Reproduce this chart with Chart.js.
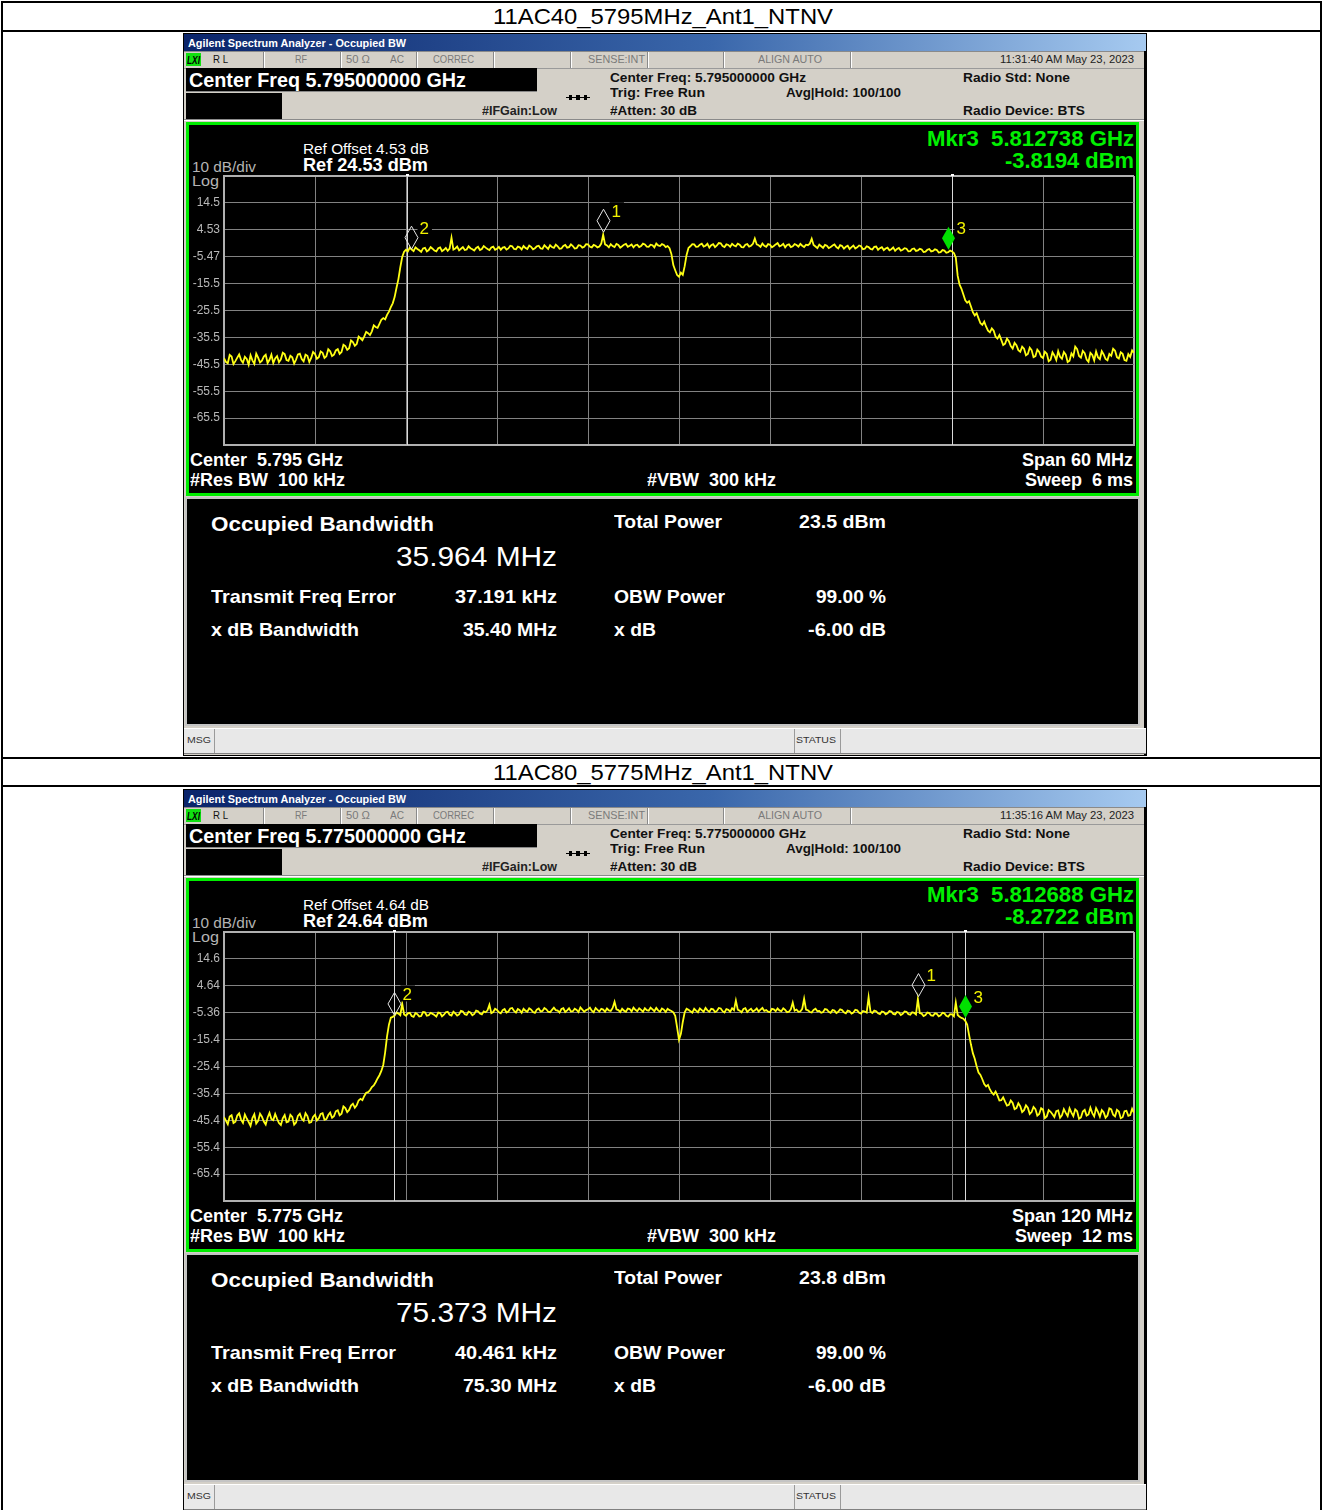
<!DOCTYPE html>
<html><head><meta charset="utf-8">
<script src="https://cdn.jsdelivr.net/npm/chart.js@4.4.1/dist/chart.umd.min.js"></script>
<style>
html,body{margin:0;padding:0;background:#fff;width:1323px;height:1510px;overflow:hidden;position:relative;font-family:"Liberation Sans",Arial,sans-serif;}
canvas{position:absolute;}
</style></head><body>
<script>
// ---------- DATA ----------
const trace1Range = [5765, 5825];           // MHz, span 60 MHz, evenly spaced sweep points
const trace1Values = [
 -43.2,-44.6,-45.1,-42.0,-42.6,-45.4,-44.3,-43.0,-41.8,-43.9,-44.9,-42.7,-43.5,-45.6,-42.1,-44.0,-45.3,-41.5,-43.0,-44.8,
 -44.1,-42.6,-41.9,-45.0,-43.8,-41.9,-45.0,-43.3,-42.4,-44.7,-43.6,-41.2,-41.7,-43.9,-44.2,-42.3,-42.9,-45.2,-43.7,-41.8,
 -41.5,-43.5,-44.4,-41.9,-42.3,-44.6,-43.1,-40.9,-41.6,
 -43.4,-42.8,-40.7,-41.2,-43.1,-42.5,-39.9,-40.6,-42.4,-41.9,-40.3,-39.8,-41.6,-40.9,-38.2,-38.7,-40.1,-39.5,-36.6,-37.2,
 -38.6,-37.9,-35.2,-35.8,-36.5,-35.1,-33.4,-33.9,-34.6,-33.2,-31.0,-31.6,-31.9,-30.4,-28.9,-28.3,-28.8,-27.1,-25.9,-24.2,
 -22.8,-20.5,-17.0,-13.8,-9.4,-5.6,
 -3.6,-2.9,-3.5,-2.1,-2.8,-3.4,-2.0,-2.6,-3.1,-3.7,-2.4,-2.2,-3.5,-3.0,-1.9,-2.5,-3.2,-3.5,-2.3,-2.0,-3.4,-2.9,-2.2,-3.3,-2.5,
 1.6,-2.8,
 -2.4,-1.7,-3.1,-2.5,-1.9,-3.0,-2.8,-1.6,-2.3,-2.7,-3.2,-2.2,-1.8,-3.0,-2.6,-1.5,-2.1,-2.6,-3.0,-2.0,
 -1.7,-2.9,-2.5,-1.8,-2.9,-2.1,-1.9,-2.8,-2.4,-1.4,-1.6,-2.6,-2.7,-1.7,-2.0,-2.8,-1.5,-2.2,-2.6,-1.3,
 -1.8,-2.7,-2.3,-1.6,-1.4,-2.4,-2.5,-1.2,-1.9,-2.6,-1.2,-1.9,-2.2,-1.0,-1.6,-2.5,-2.4,-1.5,-1.1,-2.1,
 -1.9,-0.9,-1.5,-2.4,-2.3,-1.2,-1.3,-2.1,-1.8,-0.8,-0.9,-1.8,-2.0,-1.1,-1.4,-2.0,-1.7,-0.6,
 2.7,-0.9,
 -1.3,-2.0,-0.8,-1.5,-1.9,-0.7,-1.1,-2.1,-1.6,-1.0,-0.7,-1.8,-1.4,-0.9,-2.0,-1.2,-1.0,-1.9,-1.5,-0.6,
 -0.9,-1.7,-1.8,-1.0,-1.2,-2.0,-0.6,-1.3,-1.5,-0.8,-1.1,-1.9,-1.5,-2.3,
 -4.5,-8.6,-10.5,-12.3,-12.9,-11.4,-12.2,-9.0,-4.8,-2.2,
 -1.6,-0.8,-0.9,-1.8,-1.7,-1.0,-0.6,-1.7,-1.4,-0.7,-2.1,-1.2,-0.8,-1.9,-1.3,-0.4,-0.5,-1.5,-1.9,-0.9,
 -1.1,-1.8,-0.7,-1.3,-1.6,-0.6,-1.0,-1.9,-2.0,-1.0,-0.8,-1.7,-1.4,-0.7,
 1.3,-0.9,
 -1.2,-1.8,-0.6,-1.4,-1.8,-0.8,-1.0,-2.0,-1.5,-0.9,-0.4,-1.6,-1.3,-0.7,-2.0,-1.1,-0.9,-1.9,-1.6,-0.8,
 -1.1,-1.7,-0.7,-1.4,-1.9,-1.0,-1.2,-0.6,
 1.2,-1.1,
 -1.7,-2.3,-1.0,-1.6,-2.2,-1.1,-1.4,-2.3,-1.9,-1.3,-0.9,-1.9,-2.4,-1.2,-1.5,-2.5,-1.8,-1.4,-2.6,-1.9,
 -1.3,-2.4,-2.0,-1.3,-1.6,-2.7,-2.5,-1.6,-1.9,-2.6,-2.8,-1.8,-1.7,-2.9,-2.3,-1.9,-3.0,-2.4,-2.1,-3.1,
 -2.7,-2.0,-3.3,-2.6,-2.2,-3.2,-2.9,-2.3,-2.5,-3.5,-3.4,-2.6,-2.4,-3.3,-3.1,-2.5,-2.8,-3.7,-3.6,-2.9,
 -2.6,-3.5,-3.3,-2.7,-3.0,-3.9,-3.8,-3.0,-3.2,-4.0,
 -3.8,-3.2,-3.5,-4.1,-5.8,-12.6,-15.9,-17.4,-19.5,-21.7,-22.6,-22.0,-24.0,-26.1,-27.3,-26.5,-28.4,-30.2,-30.8,-29.6,
 -31.5,-33.0,-33.6,-32.1,-33.0,-35.2,-35.9,-34.6,-36.4,-38.3,-37.8,-35.9,-36.9,-38.7,-39.6,-37.5,-38.4,-40.2,-40.8,-38.9,
 -39.7,-42.1,-41.6,-39.3,-40.2,-42.8,-42.4,-40.0,-40.9,-42.6,-43.1,-40.8,
 -41.5,-44.3,-43.8,-41.0,-42.2,-43.9,-40.6,-42.7,-43.4,-40.9,-41.9,-44.6,-44.1,-41.4,-42.5,-38.9,-39.8,-42.4,-43.0,-40.5,
 -41.3,-43.7,-44.5,-41.2,-42.0,-44.0,-40.7,-42.9,-43.6,-40.6,-41.8,-43.5,-44.0,-41.6,-42.3,-39.7,-40.4,-42.8,-43.3,-41.0,
 -41.6,-43.9,-44.2,-41.7,-42.7,-40.3,-41.2
];
const trace1Ref = 24.53;
const trace1TickLabels = ['', '14.5', '4.53', '-5.47', '-15.5', '-25.5', '-35.5', '-45.5', '-55.5', '-65.5', ''];
const marker1Freqs = [5790.0, 5777.338, 5812.738];
const marker1Levels = [2.7, -3.6, -3.8194];
const obw1Edges = [5777.055, 5813.019];

const trace2Range = [5715, 5835];           // MHz, span 120 MHz, evenly spaced sweep points
const trace2Values = [
 -44.2,-45.5,-46.8,-44.0,-43.5,-46.4,-45.9,-43.6,-42.8,-45.1,-46.3,-43.2,-44.7,-46.0,-47.4,-44.5,-43.1,-46.6,-45.6,-42.9,
 -44.0,-45.8,-46.9,-44.3,-42.6,-44.9,-45.3,-43.0,-44.8,-46.4,-47.1,-44.6,-43.4,-46.1,-45.8,-43.3,-44.1,-47.0,-46.2,-43.7,
 -42.9,-44.8,-45.5,-42.7,-43.8,-46.3,-46.0,-44.1,-43.3,
 -45.4,-44.6,-43.0,-42.7,-45.2,-44.9,-43.4,-42.5,-44.4,-43.8,-42.0,-41.6,-43.5,-42.9,-40.2,-40.8,-42.3,-41.5,-39.9,-39.2,
 -40.7,-39.8,-38.0,-37.4,-37.9,-36.3,-35.1,-34.9,-34.2,-33.0,-32.4,-31.2,-29.8,-28.6,-27.0,-24.8,-20.1,-14.2,-9.8,-7.2,
 -6.9,-6.4,-5.3,-5.7,-6.3,-2.0,-6.0,-6.5,-5.6,-5.4,-6.6,-6.9,-5.5,-5.9,-6.8,-6.6,-5.1,-5.2,-6.5,-6.3,
 -5.4,-5.8,-6.2,-6.8,-5.3,-5.5,-6.7,-6.1,-5.2,-5.0,-6.1,-6.4,-5.0,-5.6,-6.4,-6.0,-4.7,-4.9,-5.9,-6.2,
 -5.0,-5.3,-6.3,-5.8,-4.6,-4.8,-5.7,-6.0,-4.9,-5.2,-4.5,-2.4,-5.5,
 -5.1,-3.9,-4.3,-5.2,-5.6,-4.4,-4.0,-5.3,-4.9,-3.8,-3.6,-4.7,-5.3,-4.0,-4.4,-5.4,-3.9,-4.6,-5.0,-3.7,
 -4.2,-5.1,-5.4,-4.2,-3.8,-4.9,-4.7,-3.6,-4.1,-5.0,-5.2,-4.3,-3.5,-4.4,-4.6,-5.3,-4.0,-3.7,-5.1,-4.5,
 -3.7,-4.9,-4.8,-3.9,-4.3,-5.1,-3.4,-4.2,-5.0,-4.4,-4.1,-3.5,-4.6,-5.2,-3.6,-4.3,-4.9,-3.9,-4.2,-5.0,
 -3.8,-4.5,-4.7,-3.6,-1.3,-4.1,-4.4,-5.1,-3.9,-4.6,-5.0,-3.8,-4.0,-4.9,-3.5,-4.3,-4.8,-3.7,-4.3,-5.0,
 -3.7,-4.4,-4.6,-3.5,-4.1,-4.8,-3.6,-4.5,-5.0,-3.8,-4.2,-5.1,-3.9,-4.4,-4.7,-5.2,
 -6.5,-10.8,-15.4,-13.2,-8.8,-5.2,-3.9,
 -4.3,-4.8,-5.3,-3.9,-4.6,-5.2,-3.8,-4.4,-5.0,-3.6,-4.5,-5.0,-3.9,-4.1,-5.1,-4.7,-3.6,-3.8,-4.8,-5.3,
 -4.0,-4.3,-5.0,-3.7,-4.4,-0.8,-4.2,-4.6,-5.2,-4.0,-3.7,-5.1,-4.4,-3.9,-4.9,-4.5,-3.8,-4.9,-4.2,-3.6,
 -4.7,-4.4,-5.0,-5.2,-3.9,-4.1,-4.8,-3.8,-4.5,-4.8,-3.7,-4.3,-5.2,-5.0,-4.1,-1.6,-4.6,-4.2,-5.0,-4.9,
 -3.9,-0.2,-4.2,-4.5,-5.1,-5.3,-4.3,-3.9,-4.8,-4.7,-5.4,-5.1,-4.0,-4.2,-5.0,-5.4,-4.4,-4.6,-5.5,-5.0,
 -4.1,-4.4,-5.2,-5.6,-4.6,-4.8,-5.7,-5.3,-4.3,-4.5,-5.4,-5.7,-4.7,-4.9,-5.3,0.4,-5.0,-5.5,-4.6,-4.8,
 -5.6,-5.9,-4.9,-5.1,-6.0,-5.6,-4.7,-4.9,-5.8,-6.0,-5.1,-5.3,-6.2,-5.8,-4.9,-5.0,-5.9,-6.1,-5.2,-5.4,
 -6.0,-0.3,-5.5,-5.7,-6.6,-6.2,-5.3,-5.5,-6.4,-6.5,-5.6,-5.8,-6.7,-6.3,-5.4,-5.6,-6.5,-6.8,-5.9,-6.0,
 -6.7,-1.6,-6.2,-6.9,
 -7.3,-7.6,-8.4,-9.8,-13.6,-17.2,-20.4,-22.5,-25.3,-27.6,-28.5,-30.1,-31.9,-32.8,-32.2,-33.9,-35.1,-35.8,-34.7,-36.2,
 -38.0,-37.9,-36.8,-38.4,-39.9,-39.6,-38.0,-38.9,-41.2,-40.8,-39.0,-40.1,-42.3,-41.6,-39.8,-40.7,-43.0,-42.3,-40.4,-41.2,
 -43.6,-43.0,-40.9,
 -41.4,-44.5,-43.9,-41.6,-42.2,-43.1,-44.1,-42.0,-41.7,-44.4,-43.5,-41.2,-42.6,-43.8,-40.9,-42.5,-43.8,-41.3,-42.0,-44.8,
 -44.3,-42.1,-41.5,-43.6,-43.2,-40.7,-42.7,-43.9,-40.8,-42.2,-44.0,-41.6,-42.4,-44.4,-43.6,-40.9,-41.3,-43.3,-43.9,-41.5,
 -42.1,-44.6,-44.2,-42.0,-41.8,-43.7,-43.4,-41.1,-42.6
];
const trace2Ref = 24.64;
const trace2TickLabels = ['', '14.6', '4.64', '-5.36', '-15.4', '-25.4', '-35.4', '-45.4', '-55.4', '-65.4', ''];
const marker2Freqs = [5806.5, 5737.388, 5812.688];
const marker2Levels = [-0.3, -7.3, -8.2722];
const obw2Edges = [5737.354, 5812.727];

const screen1Text = { title:'11AC40_5795MHz_Ant1_NTNV', time:'11:31:40 AM May 23, 2023', cf:'Center Freq 5.795000000 GHz', cf2:'Center Freq: 5.795000000 GHz',
  refOff:'Ref Offset 4.53 dB', refLvl:'Ref 24.53 dBm', mkr:'Mkr3  5.812738 GHz', mkrv:'-3.8194 dBm', center:'Center  5.795 GHz', span:'Span 60 MHz', sweep:'Sweep  6 ms',
  obw:'35.964 MHz', tp:'23.5 dBm', fe:'37.191 kHz', xbw:'35.40 MHz' };
const screen2Text = { title:'11AC80_5775MHz_Ant1_NTNV', time:'11:35:16 AM May 23, 2023', cf:'Center Freq 5.775000000 GHz', cf2:'Center Freq: 5.775000000 GHz',
  refOff:'Ref Offset 4.64 dB', refLvl:'Ref 24.64 dBm', mkr:'Mkr3  5.812688 GHz', mkrv:'-8.2722 dBm', center:'Center  5.775 GHz', span:'Span 120 MHz', sweep:'Sweep  12 ms',
  obw:'75.373 MHz', tp:'23.8 dBm', fe:'40.461 kHz', xbw:'75.30 MHz' };

// ---------- helpers ----------
const root = document.body;
const scaleMemo = {};
function R(parent, x, y, w, h, bg, extra) {
  const d = document.createElement('div');
  d.style.position = 'absolute';
  d.style.left = x + 'px'; d.style.top = y + 'px'; d.style.width = w + 'px'; d.style.height = h + 'px';
  d.style.background = bg;
  if (extra) Object.assign(d.style, extra);
  parent.appendChild(d); return d;
}
function T(parent, key, txt, x, base, fs, o) {
  o = o || {};
  const d = document.createElement('div');
  d.textContent = txt;
  d.style.cssText = 'position:absolute;white-space:pre;line-height:1;left:0;top:' + (base - 0.8465 * fs) + 'px;font-family:' +
    (o.ff || '"Liberation Sans", Arial, sans-serif') + ';font-size:' + fs + 'px;font-weight:' + (o.b ? 'bold' : 'normal') +
    ';font-style:' + (o.i ? 'italic' : 'normal') + ';color:' + (o.c || '#fff') + ';transform-origin:0 0;';
  parent.appendChild(d);
  const nat = d.getBoundingClientRect().width;
  let s = 1;
  if (o.w) { s = o.w / nat; scaleMemo[key] = s; }
  else if (scaleMemo[key]) s = scaleMemo[key];
  const rw = nat * s;
  let left = x;
  if (o.align === 'right') left = x - rw; else if (o.align === 'center') left = x - rw / 2;
  d.style.left = left + 'px';
  d.style.transform = 'scaleX(' + s + ')';
  return d;
}

function markerPlugin(mFreqs, mLevels, obw) {
  return {
    id: 'mk',
    beforeDatasetsDraw(chart) {
      const ctx = chart.ctx, a = chart.chartArea, xs = chart.scales.x;
      ctx.save();
      ctx.strokeStyle = '#dadada'; ctx.lineWidth = 1;
      obw.forEach(f => {
        const p = Math.round(xs.getPixelForValue(f)) + 0.5;
        ctx.beginPath(); ctx.moveTo(p, a.top - 1); ctx.lineTo(p, a.bottom); ctx.stroke();
        ctx.fillStyle = '#ffffff'; ctx.fillRect(p - 1.5, a.top - 2, 3, 2);
      });
      ctx.restore();
    },
    afterDatasetsDraw(chart) {
      const ctx = chart.ctx, xs = chart.scales.x, ys = chart.scales.y;
      ctx.save();
      mFreqs.forEach((f, k) => {
        const cx = Math.round(xs.getPixelForValue(f)) + 0.5;
        const py = ys.getPixelForValue(mLevels[k]);
        const hh = 11.5, hw = 6.5, bot = py - 2.5, cy = bot - hh, top = bot - 2 * hh;
        const lbl = String(k + 1);
        ctx.font = '17px "Liberation Sans", Arial, sans-serif';
        const tw = ctx.measureText(lbl).width;
        ctx.fillStyle = '#000'; ctx.fillRect(cx + 6, top - 7, tw + 5, 16);
        ctx.beginPath(); ctx.moveTo(cx, top); ctx.lineTo(cx + hw, cy); ctx.lineTo(cx, bot); ctx.lineTo(cx - hw, cy); ctx.closePath();
        if (k === 2) { ctx.fillStyle = '#00e000'; ctx.fill(); }
        else { ctx.strokeStyle = '#e6e6e6'; ctx.lineWidth = 1; ctx.stroke(); }
        ctx.fillStyle = '#f2f200'; ctx.textBaseline = 'alphabetic'; ctx.fillText(lbl, cx + 8, top + 7.5);
      });
      ctx.restore();
    }
  };
}

function makeChart(parent, values, range, ref, tickLabels, mFreqs, mLevels, obw) {
  const cv = document.createElement('canvas');
  cv.width = 947; cv.height = 291;
  cv.style.left = '5px'; cv.style.top = '132px';
  parent.appendChild(cv);
  const n = values.length, step = (range[1] - range[0]) / (n - 1);
  const data = values.map((v, i) => ({ x: range[0] + i * step, y: v }));
  const yTicks = tickLabels.map((_, k) => ref - 10 * k).reverse();
  const edge = (ctx, last) => ctx.index === 0 || ctx.index === last;
  new Chart(cv, {
    type: 'line',
    data: { datasets: [{ data, borderColor: '#ffff14', borderWidth: 1.8, pointRadius: 0, tension: 0, fill: false }] },
    options: {
      animation: false, responsive: false, devicePixelRatio: 1, events: [],
      layout: { padding: { top: 0, right: 1, bottom: 0, left: 0 } },
      plugins: { legend: { display: false }, tooltip: { enabled: false } },
      scales: {
        x: {
          type: 'linear', min: range[0], max: range[1],
          afterBuildTicks: s => { s.ticks = Array.from({ length: 11 }, (_, k) => ({ value: range[0] + k * (range[1] - range[0]) / 10 })); },
          afterFit: s => { s.height = 0; },
          ticks: { display: false },
          grid: { drawTicks: false, color: c => edge(c, 10) ? '#b0b0b0' : '#828282', lineWidth: c => edge(c, 10) ? 2 : 1 },
          border: { display: true, color: '#b0b0b0', width: 2 }
        },
        y: {
          type: 'linear', min: ref - 100, max: ref,
          afterBuildTicks: s => { s.ticks = yTicks.map(v => ({ value: v })); },
          afterFit: s => { s.width = 36; },
          ticks: { autoSkip: false, padding: 4, color: '#b8b8b8', font: { family: '"Liberation Sans", Arial, sans-serif', size: 12, lineHeight: '14px' },
            callback: (v) => tickLabels[Math.round((ref - v) / 10)] },
          grid: { drawTicks: false, color: c => edge(c, 10) ? '#b0b0b0' : '#828282', lineWidth: c => edge(c, 10) ? 2 : 1 },
          border: { display: true, color: '#b0b0b0', width: 2 }
        }
      }
    },
    plugins: [markerPlugin(mFreqs, mLevels, obw)]
  });
}

function buildScreen(oy, S, first, chartArgs) {
  const wf = w => first ? w : undefined;
  const sc = R(root, 183, oy, 964, 723, '#000', { overflow: 'hidden' });
  R(sc, 1, 18, 960, 704, '#d4d0c8');
  R(sc, 1, 1, 962, 17, 'linear-gradient(to right,#0a246a 0%,#3a67ab 55%,#a6caf0 100%)');
  T(sc, 'tb', 'Agilent Spectrum Analyzer - Occupied BW', 5, 14.5, 11, { b: 1, w: 218 });
  R(sc, 1, 18, 960, 1, '#8a8a8a');
  [80, 157, 233, 310, 387, 464, 540, 667].forEach(x => { R(sc, x, 19, 1, 16, '#8a8a8a'); R(sc, x + 1, 19, 1, 16, '#ffffff'); });
  R(sc, 1, 35, 960, 1, '#9a9a9a');
  R(sc, 3, 20, 15, 13, '#10e010');
  T(sc, 'lxi', 'LXI', 4, 31, 10, { b: 1, i: 1, c: '#000', w: 13 });
  T(sc, 'rl', 'R L', 30, 30.5, 11, { c: '#111', w: 15 });
  T(sc, 'rf', 'RF', 118, 30.5, 11, { c: '#7a7a7a', w: 12, align: 'center' });
  T(sc, 'ohm', '50 Ω', 163, 30.5, 11, { c: '#7a7a7a', w: 24 });
  T(sc, 'ac', 'AC', 207, 30.5, 11, { c: '#7a7a7a', w: 14 });
  T(sc, 'cor', 'CORREC', 250, 30.5, 11, { c: '#7a7a7a', w: 41 });
  T(sc, 'sense', 'SENSE:INT', 405, 30.5, 11, { c: '#7a7a7a', w: 57 });
  T(sc, 'align', 'ALIGN AUTO', 575, 30.5, 11, { c: '#7a7a7a', w: 64 });
  T(sc, 'time', S.time, 951, 30.5, 11, { c: '#222', w: wf(134), align: 'right' });
  R(sc, 3, 35, 351, 23, '#000');
  T(sc, 'cf', S.cf, 6, 53.7, 20, { b: 1, w: wf(277) });
  R(sc, 3, 58, 351, 1, '#888');
  R(sc, 3, 60, 96, 26, '#000');
  T(sc, 'ifg', '#IFGain:Low', 299, 82, 12, { b: 1, c: '#222', w: 75 });
  R(sc, 383, 64, 24, 1, '#000'); R(sc, 393, 62, 4, 5, '#000');
  R(sc, 386, 62, 3, 5, '#000'); R(sc, 401, 62, 3, 5, '#000');
  T(sc, 'cf2', S.cf2, 427, 49, 13.5, { b: 1, c: '#111', w: wf(196) });
  T(sc, 'trig', 'Trig: Free Run', 427, 64, 13.5, { b: 1, c: '#111', w: 95 });
  T(sc, 'att', '#Atten: 30 dB', 427, 82, 13.5, { b: 1, c: '#111', w: 87 });
  T(sc, 'avg', 'Avg|Hold: 100/100', 603, 64, 13.5, { b: 1, c: '#111', w: 115 });
  T(sc, 'rstd', 'Radio Std: None', 780, 49, 13.5, { b: 1, c: '#111', w: 107 });
  T(sc, 'rdev', 'Radio Device: BTS', 780, 82, 13.5, { b: 1, c: '#111', w: 122 });
  R(sc, 1, 86, 960, 1, '#8a8a8a'); R(sc, 1, 87, 960, 1, '#ffffff');
  R(sc, 3, 89, 953, 374, '#000', { border: '3px solid #00ec00', boxSizing: 'border-box' });
  T(sc, 'roff', S.refOff, 120, 121, 15, { w: wf(126) });
  T(sc, 'rlvl', S.refLvl, 120, 138.7, 18.5, { b: 1, w: wf(125) });
  T(sc, 'dbdiv', '10 dB/div', 9, 138.7, 15, { c: '#b4b4b4', w: 64 });
  T(sc, 'log', 'Log', 9, 153, 15, { c: '#b4b4b4', w: 27 });
  T(sc, 'mkr', S.mkr, 950.7, 113.7, 22, { b: 1, c: '#00f000', align: 'right', w: wf(207) });
  T(sc, 'mkrv', S.mkrv, 950.7, 135.3, 22, { b: 1, c: '#00f000', align: 'right', w: wf(129) });
  T(sc, 'ctr', S.center, 7, 432.7, 19, { b: 1, w: wf(153) });
  T(sc, 'rbw', '#Res BW  100 kHz', 7, 452.7, 19, { b: 1, w: 155 });
  T(sc, 'vbw', '#VBW  300 kHz', 464, 452.7, 19, { b: 1, w: 129 });
  T(sc, 'span', S.span, 950, 432.7, 19, { b: 1, align: 'right', w: wf(111) });
  T(sc, 'swp', S.sweep, 950, 452.7, 19, { b: 1, align: 'right', w: wf(108) });
  makeChart.apply(null, [sc].concat(chartArgs));
  R(sc, 2, 464, 955, 229, '#000', { border: '2px solid #c4c4c4', boxSizing: 'border-box' });
  T(sc, 'ob', 'Occupied Bandwidth', 27.7, 498.8, 20.5, { b: 1, w: 223 });
  T(sc, 'obv', S.obw, 373.5, 533.9, 28, { align: 'right', w: wf(161) });
  T(sc, 'tpl', 'Total Power', 430.8, 495.4, 18.5, { b: 1, w: 108 });
  T(sc, 'tpv', S.tp, 702.8, 495.4, 18.5, { b: 1, align: 'right', w: wf(87) });
  T(sc, 'tfe', 'Transmit Freq Error', 27.7, 570.7, 18.5, { b: 1, w: 185 });
  T(sc, 'tfev', S.fe, 374, 570.7, 18.5, { b: 1, align: 'right', w: wf(102) });
  T(sc, 'obwp', 'OBW Power', 430.8, 570.7, 18.5, { b: 1, w: 111 });
  T(sc, 'obwpv', '99.00 %', 702.8, 570.7, 18.5, { b: 1, align: 'right', w: 70 });
  T(sc, 'xdb', 'x dB Bandwidth', 27.7, 604.1, 18.5, { b: 1, w: 148 });
  T(sc, 'xdbv', S.xbw, 374, 604.1, 18.5, { b: 1, align: 'right', w: wf(94) });
  T(sc, 'xd', 'x dB', 430.8, 604.1, 18.5, { b: 1, w: 42 });
  T(sc, 'xdv', '-6.00 dB', 702.8, 604.1, 18.5, { b: 1, align: 'right', w: 78 });
  R(sc, 1, 695, 962, 26, '#e8e8e8', { borderTop: '1px solid #ffffff', borderBottom: '1px solid #808080', boxSizing: 'border-box' });
  [31, 611, 657].forEach(x => { R(sc, x, 696, 1, 24, '#9a9a9a'); });
  T(sc, 'msg', 'MSG', 4, 711, 9, { c: '#333', w: 24 });
  T(sc, 'stat', 'STATUS', 613, 711, 9, { c: '#333', w: 40 });
}

// ---------- table frame ----------
R(root, 1, 1, 1321, 2, '#000');
R(root, 1, 1, 2, 1512, '#000');
R(root, 1320, 1, 2, 1512, '#000');
R(root, 1, 30, 1321, 2, '#000');
R(root, 1, 757, 1321, 2, '#000');
R(root, 1, 785, 1321, 2, '#000');
T(root, 'title', screen1Text.title, 663, 24.5, 22, { c: '#000', align: 'center', w: 340 });
T(root, 'title', screen2Text.title, 663, 780.5, 22, { c: '#000', align: 'center' });

buildScreen(33, screen1Text, true, [trace1Values, trace1Range, trace1Ref, trace1TickLabels, marker1Freqs, marker1Levels, obw1Edges]);
buildScreen(789, screen2Text, false, [trace2Values, trace2Range, trace2Ref, trace2TickLabels, marker2Freqs, marker2Levels, obw2Edges]);
</script>
</body></html>
